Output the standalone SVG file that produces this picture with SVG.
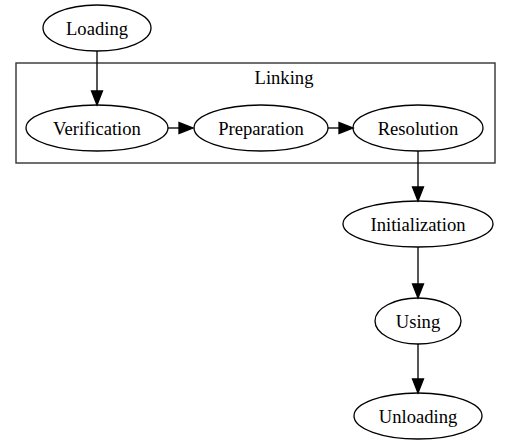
<svg xmlns="http://www.w3.org/2000/svg" width="511" height="447" viewBox="0 0 511 447">
<style>
.n ellipse{fill:none;stroke:#000;stroke-width:1.33}
text{font-family:"Liberation Serif","Times New Roman",serif;font-size:18.6px;text-anchor:middle;fill:#000}
.e line{stroke:#000;stroke-width:1.33}
.e polygon{fill:#000;stroke:#000;stroke-width:1.33}
</style>
<rect width="511" height="447" fill="#fff"/>
<g id="cluster_linking">
<rect x="16" y="63" width="479" height="100" fill="none" stroke="#333" stroke-width="1.4"/>
<text x="284" y="84">Linking</text>
</g>
<g id="Loading" class="n"><ellipse cx="97" cy="28" rx="54" ry="23"/><text x="97" y="35">Loading</text></g>
<g id="Verification" class="n"><ellipse cx="97" cy="128" rx="71" ry="23"/><text x="97" y="135">Verification</text></g>
<g id="Preparation" class="n"><ellipse cx="261" cy="128" rx="67" ry="23"/><text x="261" y="135">Preparation</text></g>
<g id="Resolution" class="n"><ellipse cx="418" cy="128" rx="65" ry="23"/><text x="418" y="135">Resolution</text></g>
<g id="Initialization" class="n"><ellipse cx="418" cy="224" rx="75" ry="23"/><text x="418" y="231">Initialization</text></g>
<g id="Using" class="n"><ellipse cx="418" cy="321" rx="43" ry="23"/><text x="418" y="328">Using</text></g>
<g id="Unloading" class="n"><ellipse cx="418" cy="416" rx="64" ry="23"/><text x="418" y="423">Unloading</text></g>
<g id="edges" class="e">
<line x1="97" y1="51" x2="97" y2="91"/><polygon points="91.5,91 102.5,91 97,105"/>
<line x1="168" y1="128" x2="179" y2="128"/><polygon points="179,122.5 179,133.5 193,128"/>
<line x1="328" y1="128" x2="339" y2="128"/><polygon points="339,122.5 339,133.5 353,128"/>
<line x1="418" y1="151" x2="418" y2="187"/><polygon points="412.5,187 423.5,187 418,201"/>
<line x1="418" y1="247" x2="418" y2="284"/><polygon points="412.5,284 423.5,284 418,298"/>
<line x1="418" y1="344" x2="418" y2="379"/><polygon points="412.5,379 423.5,379 418,393"/>
</g>
</svg>
